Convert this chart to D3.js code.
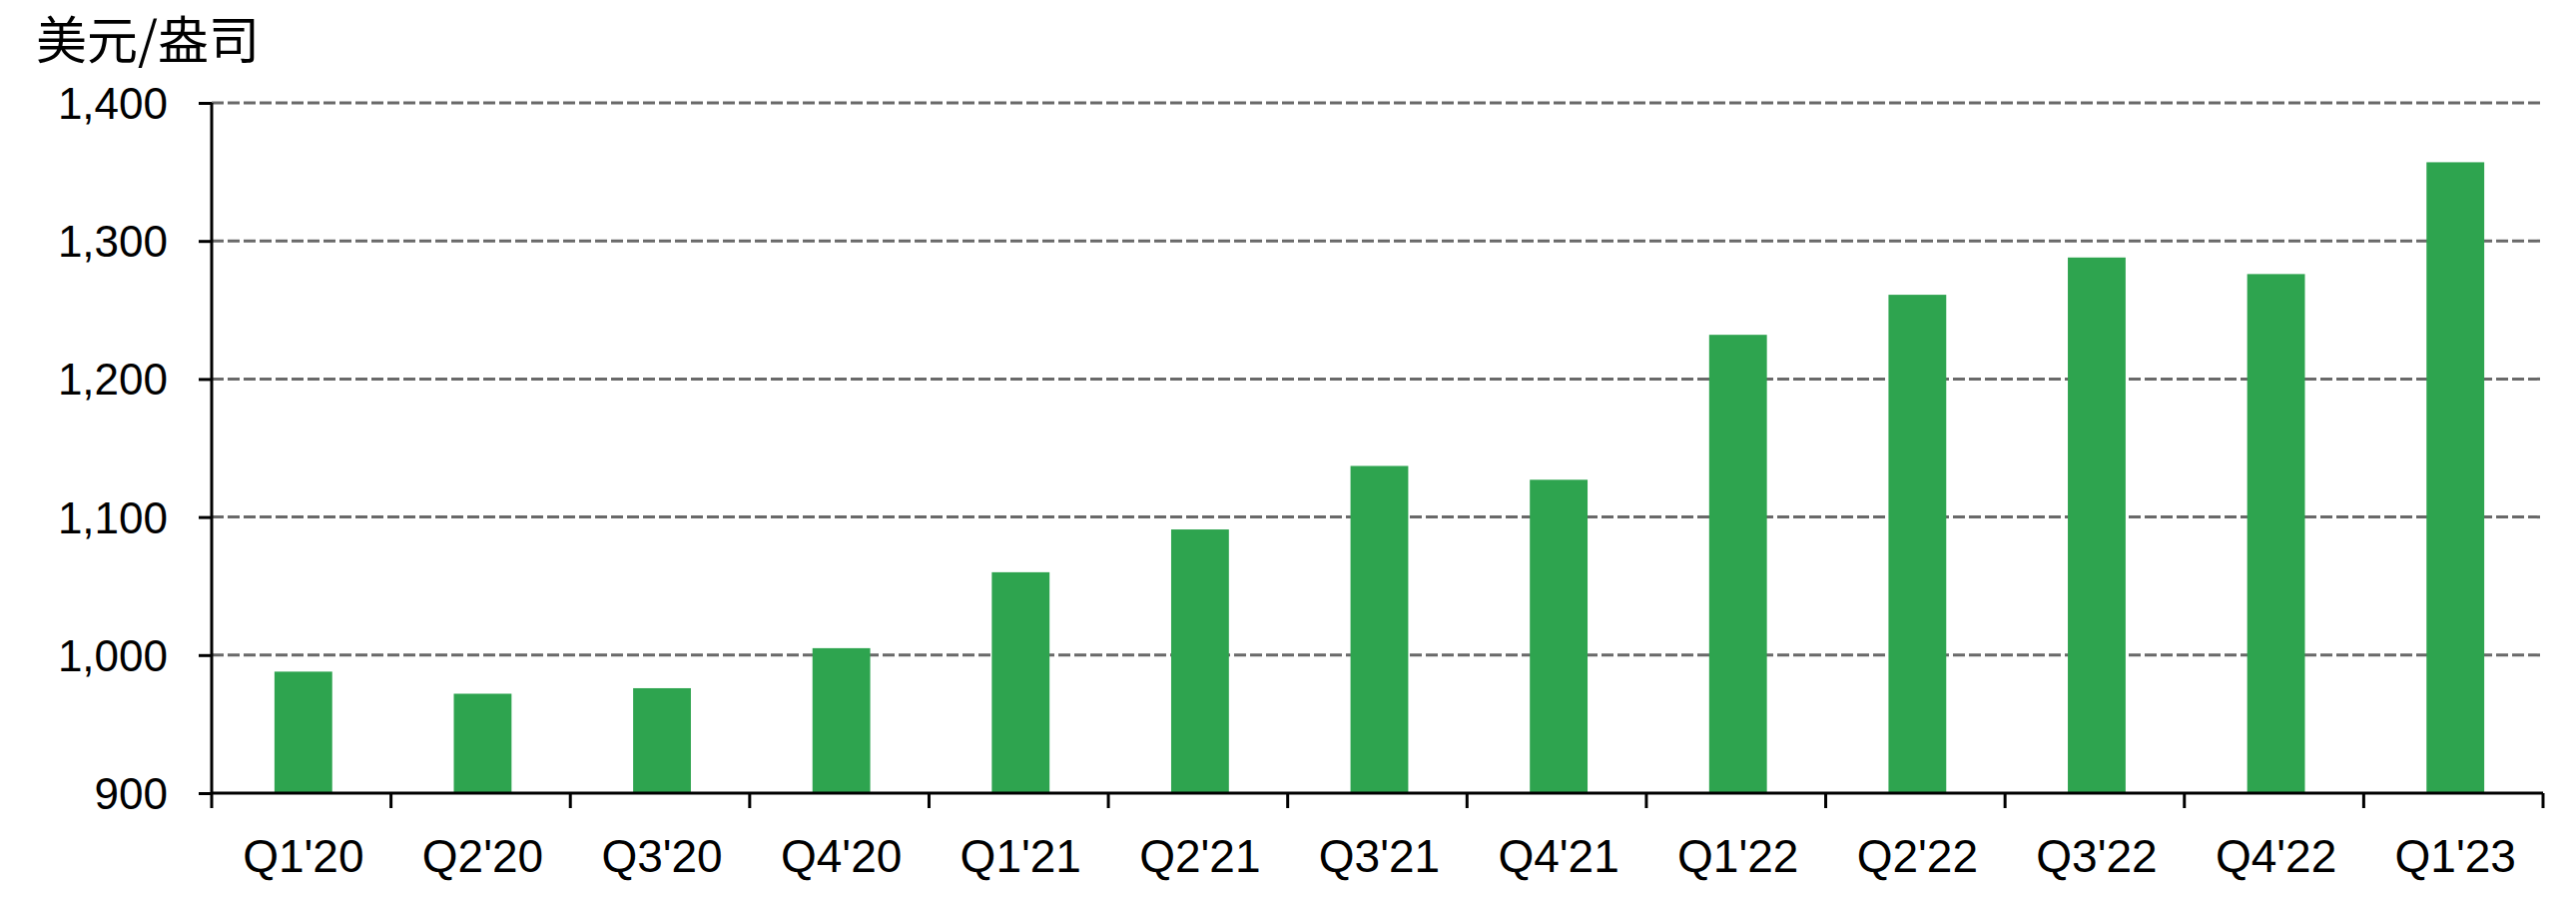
<!DOCTYPE html>
<html>
<head>
<meta charset="utf-8">
<script src="https://cdn.jsdelivr.net/npm/d3@7"></script>
<style>
  html, body { margin: 0; padding: 0; background: #fff; }
  svg { display: block; }
</style>
</head>
<body>
<svg id="chart" width="2580" height="900"></svg>
<script>
const categories = ["Q1'20","Q2'20","Q3'20","Q4'20","Q1'21","Q2'21","Q3'21","Q4'21","Q1'22","Q2'22","Q3'22","Q4'22","Q1'23"];
const values = [988, 972, 976, 1005, 1060, 1091, 1137, 1127, 1232, 1261, 1288, 1276, 1357];
const yTicks = [900, 1000, 1100, 1200, 1300, 1400];
const yTitle = "美元/盎司";

(function () {
const svg = d3.select("#chart");
const mLeft = 212, mRight = 2547, mTop = 103, mBottom = 794;
const barColor = "#2EA44F";
const latin = "'Liberation Sans', Arial, sans-serif";

const x = d3.scaleBand().domain(categories).range([mLeft, mRight]).padding(0);
const y = d3.scaleLinear().domain([900, 1400]).range([mBottom, mTop]);

// gridlines
svg.append("g").selectAll("line")
  .data(yTicks.filter(d => d > 900))
  .join("line")
  .attr("x1", mLeft).attr("x2", mRight)
  .attr("y1", d => y(d)).attr("y2", d => y(d))
  .attr("stroke", "#696969").attr("stroke-width", 3)
  .attr("stroke-dasharray", "12,4");

// bars
const bw = x.bandwidth() * 0.322;
svg.append("g").selectAll("rect")
  .data(categories)
  .join("rect")
  .attr("x", (d) => x(d) + x.bandwidth() / 2 - bw / 2 + 2)
  .attr("width", bw)
  .attr("y", (d, i) => y(values[i]))
  .attr("height", (d, i) => y(900) - y(values[i]))
  .attr("fill", barColor);

// y axis
const yAxis = svg.append("g")
  .attr("transform", `translate(${mLeft},0)`)
  .call(d3.axisLeft(y).tickValues(yTicks).tickFormat(d3.format(",")).tickSize(13).tickPadding(31));
yAxis.select(".domain").attr("stroke", "#000").attr("stroke-width", 3)
  .attr("d", `M0,${mTop}V${mBottom + 15}`);
yAxis.selectAll(".tick line").attr("stroke", "#000").attr("stroke-width", 3);
yAxis.selectAll(".tick text")
  .attr("font-family", latin).attr("font-size", 44).attr("fill", "#000")
  .attr("dy", "0.35em");

// x axis
const xAxis = svg.append("g")
  .attr("transform", `translate(0,${mBottom})`)
  .call(d3.axisBottom(x).tickSize(0).tickPadding(0));
xAxis.select(".domain").attr("stroke", "#000").attr("stroke-width", 3)
  .attr("d", `M${mLeft},0H${mRight}`);
xAxis.selectAll(".tick text")
  .attr("font-family", latin).attr("font-size", 46).attr("fill", "#000")
  .attr("y", 63).attr("dy", "0.35em")
  .attr("transform", "translate(2,0)");

// category boundary ticks
const bounds = categories.map(c => x(c)).concat([mRight]);
xAxis.append("g").selectAll("line")
  .data(bounds.slice(1))
  .join("line")
  .attr("x1", d => d).attr("x2", d => d)
  .attr("y1", 0).attr("y2", 15)
  .attr("stroke", "#000").attr("stroke-width", 3);

// title
svg.append("text")
  .attr("x", 36).attr("y", 37)
  .attr("dominant-baseline", "central")
  .attr("font-family", "'Noto Sans CJK SC', sans-serif")
  .attr("font-size", 51)
  .attr("fill", "#000")
  .text(yTitle);
})();
</script>
</body>
</html>
